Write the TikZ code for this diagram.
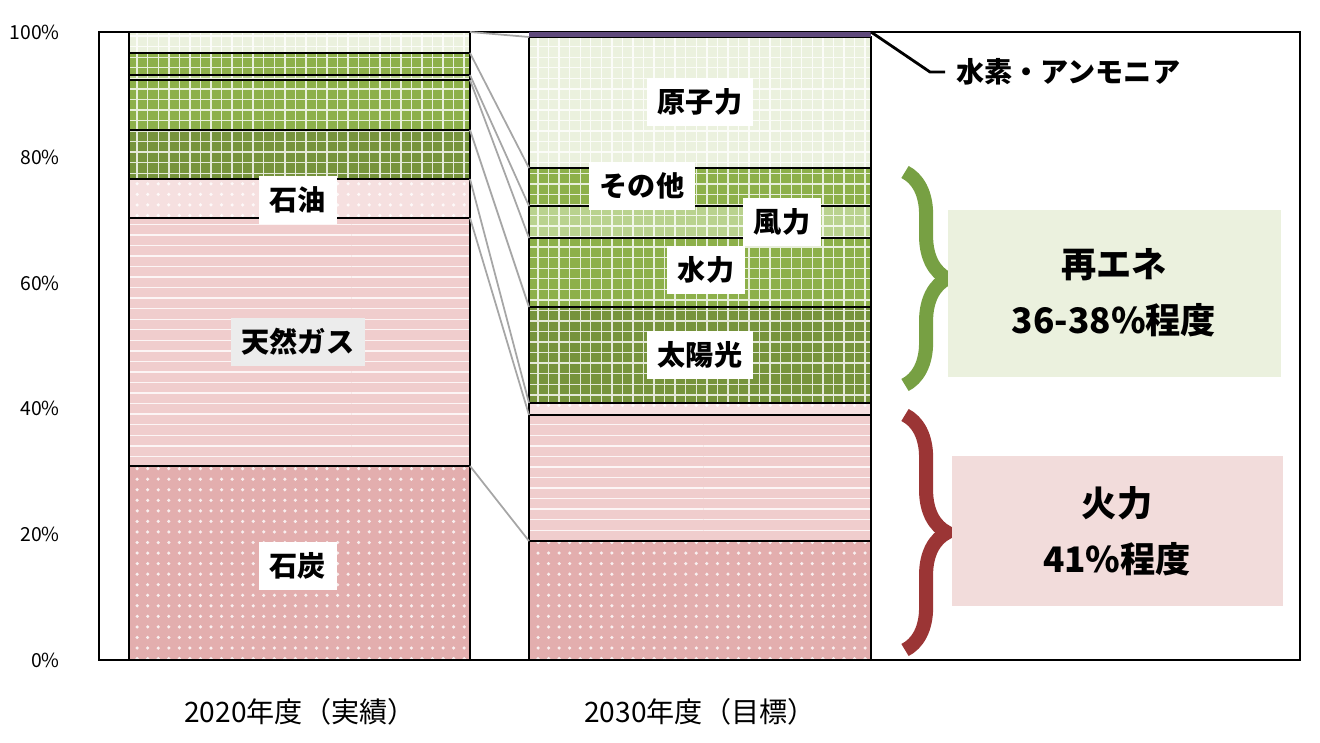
\documentclass[tikz,border=0pt]{standalone}
\usepackage{fontspec}
\setmainfont{Noto Sans CJK JP}
\usepackage{tikz}
\usetikzlibrary{patterns, decorations.pathreplacing, positioning}
\definecolor{coal}{HTML}{E3AEAE}
\definecolor{gas}{HTML}{F0CDCD}
\definecolor{oil}{HTML}{F6E0E0}
\definecolor{solar}{HTML}{76933C}
\definecolor{hydro}{HTML}{8DB04A}
\definecolor{wind}{HTML}{B9D28E}
\definecolor{nuke}{HTML}{EBF1DE}
\definecolor{htwo}{HTML}{5F4A7B}
\definecolor{rebox}{HTML}{EBF1DE}
\definecolor{firebox}{HTML}{F2DCDB}
\definecolor{renew}{HTML}{77A043}
\definecolor{fire}{HTML}{9B3535}
\tikzset{
  seg/.style={draw=black, line width=0.5pt},
  tag/.style={fill=white, inner sep=3pt, font=\bfseries\fontsize{8}{9}\selectfont},
  tick/.style={anchor=east, font=\fontsize{5.5}{6}\selectfont},
  link/.style={draw=gray!70, line width=0.5pt},
  bigtag/.style={font=\bfseries\fontsize{10}{16}\selectfont, align=center}
}
\begin{document}
\begin{tikzpicture}[x=0.01cm, y=-0.01cm]
    \useasboundingbox (0,0) rectangle (1320,743);

    % Plot frame
    \draw[line width=0.5pt] (99,32) rectangle (1300,660);
    \foreach \y/\p in {660/0, 534.4/20, 408.8/40, 283.2/60, 157.6/80, 32/100} {
        \node[tick] at (72,\y) {\p\%};
    }

    % Bar 2020
    \foreach \top/\bot/\col/\pat in {466/660/coal/dots, 218/466/gas/horizontal lines, 179/218/oil/dots,
        130/179/solar/grid, 80/130/hydro/grid, 75/80/wind/grid, 53/75/hydro/grid, 32/53/nuke/grid} {
        \fill[\col] (129,\bot) rectangle (470,\top);
        \fill[pattern=\pat, pattern color=white!80!\col] (129,\bot) rectangle (470,\top);
        \draw[seg] (129,\bot) rectangle (470,\top);
    }

    % Bar 2030
    \foreach \top/\bot/\col/\pat in {541/660/coal/dots, 415/541/gas/horizontal lines, 403/415/oil/dots,
        307/403/solar/grid, 238/307/hydro/grid, 206/238/wind/grid, 168/206/hydro/grid, 37/168/nuke/grid} {
        \fill[\col] (529,\bot) rectangle (871,\top);
        \fill[pattern=\pat, pattern color=white!80!\col] (529,\bot) rectangle (871,\top);
        \draw[seg] (529,\bot) rectangle (871,\top);
    }
    \fill[htwo] (529,32) rectangle (871,37);

    % Links between bars
    \foreach \a/\b in {466/541, 218/415, 179/403, 130/307, 80/238, 75/206, 53/168, 32/37} {
        \draw[link] (470,\a) -- (529,\b);
    }

    % Segment labels
    \node[tag] (coalA) at (298,566) {石炭};
    \node[tag, fill=gray!15] (gasA) at (298,342) {天然ガス};
    \node[tag] (oilA) at (298,200) {石油};
    \node[tag] (nukeB) at (700,102) {原子力};
    \node[tag] (otherB) at (642,186) {その他};
    \node[tag] (windB) at (782,222) {風力};
    \node[tag] (hydroB) at (706,270) {水力};
    \node[tag] (solarB) at (700,355) {太陽光};

    % Hydrogen leader
    \node[tag, anchor=west, fill=none] (htwoB) at (945,72) {水素・アンモニア};
    \coordinate (htwoTop) at (871,32);
    \draw[line width=0.8pt] (htwoTop) -- (930,72) -- (htwoB.west);

    % Braces
    \draw[renew, line width=4pt, decoration={brace, amplitude=12pt}, decorate]
        (905,172) -- (905,385);
    \draw[fire, line width=4pt, decoration={brace, amplitude=12pt}, decorate]
        (905,415) -- (905,650);

    % Summary boxes
    \fill[rebox] (948,210) rectangle (1281,377);
    \node[bigtag] (renewT) at (1114,293) {再エネ\\36-38\%程度};
    \fill[firebox] (952,456) rectangle (1283,606);
    \node[bigtag] (fireT) at (1117,531) {火力\\41\%程度};

    % Category labels
    \node[font=\fontsize{8}{9}\selectfont] (yrA) at (300,712) {2020年度（実績）};
    \node[font=\fontsize{8}{9}\selectfont] (yrB) at (700,712) {2030年度（目標）};
\end{tikzpicture}
\end{document}
